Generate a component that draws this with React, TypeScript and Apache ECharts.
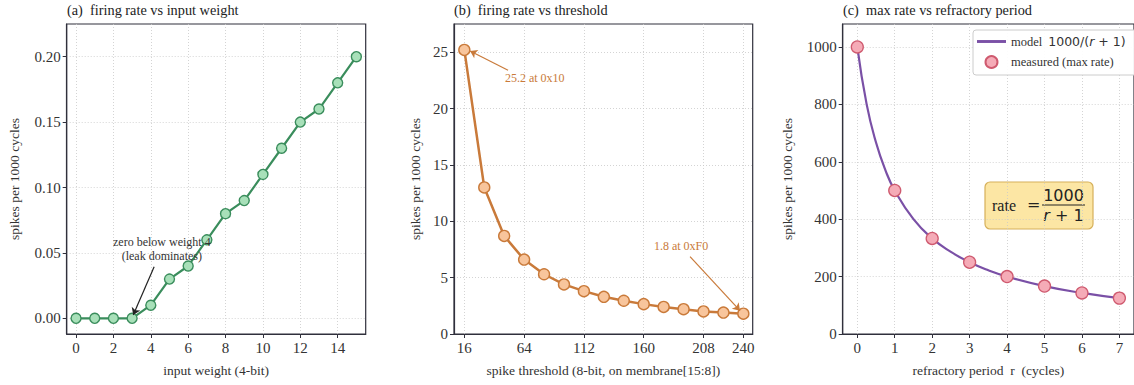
import React, { useEffect, useRef } from "react";
import * as echarts from "echarts";

// ---- data ----
const weightX = [0, 1, 2, 3, 4, 5, 6, 7, 8, 9, 10, 11, 12, 13, 14, 15];
const weightRate = [0, 0, 0, 0, 0.01, 0.03, 0.04, 0.06, 0.08, 0.09, 0.11, 0.13, 0.15, 0.16, 0.18, 0.2];

const thresholdX = [16, 32, 48, 64, 80, 96, 112, 128, 144, 160, 176, 192, 208, 224, 240];
const thresholdRate = [25.2, 13.0, 8.7, 6.6, 5.3, 4.4, 3.8, 3.3, 2.95, 2.65, 2.4, 2.2, 2.0, 1.9, 1.8];

const refractoryR = [0, 1, 2, 3, 4, 5, 6, 7];
const measuredRate = [1000, 500, 333, 250, 200, 167, 143, 125];
const modelR = [0, 0.25, 0.5, 0.75, 1, 1.5, 2, 2.5, 3, 3.5, 4, 5, 6, 7];
const modelRate = [1000, 800, 667, 571, 500, 400, 333, 286, 250, 222, 200, 167, 143, 125];

const ticksAX = [0, 2, 4, 6, 8, 10, 12, 14];
const ticksAY = [0, 0.05, 0.1, 0.15, 0.2];
const ticksBX = [16, 64, 112, 160, 208, 240];
const ticksBY = [0, 5, 10, 15, 20, 25];
const ticksCX = [0, 1, 2, 3, 4, 5, 6, 7];
const ticksCY = [0, 200, 400, 600, 800, 1000];

const titles = [
  "(a)  firing rate vs input weight",
  "(b)  firing rate vs threshold",
  "(c)  max rate vs refractory period",
];

const SERIF = "Liberation Serif, serif";
const MATH = "DejaVu Sans, sans-serif";
const FRAME = "#30303c";
const TXT = "#333333";
const GREEN = "#3a8d5c";
const ORANGE = "#c97a3a";
const PURPLE = "#7a50a6";

function axisBase(custom: number[], fmt: (v: number) => string) {
  return {
    axisLine: { show: true, onZero: false, lineStyle: { color: FRAME, width: 1.2 } },
    axisTick: { show: true, inside: false, length: 4, customValues: custom, lineStyle: { color: FRAME, width: 1 } },
    axisLabel: {
      show: true,
      customValues: custom,
      formatter: (v: number) => fmt(v),
      fontFamily: SERIF,
      fontSize: 15,
      color: TXT,
      margin: 6,
    },
    splitLine: { show: true, lineStyle: { color: "#c9c9c9", type: [1, 2], width: 0.8 } },
  };
}

const plain = (v: number) => String(v);
const nameStyle = { fontFamily: SERIF, fontSize: 13.5, color: TXT };

export default function App() {
  const ref = useRef<HTMLDivElement>(null);
  useEffect(() => {
    if (!ref.current) return;
    const chart = echarts.init(ref.current, undefined, { renderer: "svg" });
    const grids = [
      { left: 66.7, top: 24, width: 299, height: 310 },
      { left: 454, top: 24, width: 298.7, height: 310 },
      { left: 842.7, top: 24, width: 298, height: 310 },
    ].map((g) => ({ ...g, show: true, borderColor: FRAME, borderWidth: 1.2, backgroundColor: "transparent" }));

    const option: any = {
      animation: false,
      backgroundColor: "#ffffff",
      textStyle: { fontFamily: SERIF },
      grid: grids,
      xAxis: [
        {
          type: "value", gridIndex: 0, min: -0.5, max: 15.5,
          name: "input weight (4-bit)", nameLocation: "middle", nameGap: 29, nameTextStyle: nameStyle,
          ...axisBase(ticksAX, plain),
        },
        {
          type: "value", gridIndex: 1, min: 7.7, max: 247.5,
          name: "spike threshold (8-bit, on membrane[15:8])", nameLocation: "middle", nameGap: 29, nameTextStyle: nameStyle,
          ...axisBase(ticksBX, plain),
        },
        {
          type: "value", gridIndex: 2, min: -0.39, max: 7.39,
          name: "refractory period  r  (cycles)", nameLocation: "middle", nameGap: 29, nameTextStyle: nameStyle,
          ...axisBase(ticksCX, plain),
        },
      ],
      yAxis: [
        {
          type: "value", gridIndex: 0, min: -0.012, max: 0.225,
          name: "spikes per 1000 cycles", nameLocation: "middle", nameGap: 45, nameTextStyle: nameStyle,
          ...axisBase(ticksAY, (v) => v.toFixed(2)),
        },
        {
          type: "value", gridIndex: 1, min: 0, max: 27.5,
          name: "spikes per 1000 cycles", nameLocation: "middle", nameGap: 32, nameTextStyle: nameStyle,
          ...axisBase(ticksBY, plain),
        },
        {
          type: "value", gridIndex: 2, min: 0, max: 1080,
          name: "spikes per 1000 cycles", nameLocation: "middle", nameGap: 48, nameTextStyle: nameStyle,
          ...axisBase(ticksCY, plain),
        },
      ],
      legend: {
        left: 973,
        top: 30,
        orient: "vertical",
        itemWidth: 29,
        itemHeight: 12,
        itemGap: 7,
        padding: [5, 40, 6, 4],
        backgroundColor: "rgba(255,255,255,0.92)",
        borderColor: "#cccccc",
        borderWidth: 1,
        borderRadius: 3,
        data: [
          { name: "model", icon: "path://M0,0 L10,0 L10,1 L0,1 Z" },
          { name: "measured (max rate)", icon: "circle" },
        ],
        formatter: (name: string) =>
          name === "model" ? "{s|model}  {m|1000/(}{i|r}{m| + 1)}" : "{s|measured (max rate)}",
        textStyle: {
          rich: {
            s: { fontFamily: SERIF, fontSize: 12.5, color: TXT },
            m: { fontFamily: MATH, fontSize: 12.5, color: TXT },
            i: { fontFamily: MATH, fontSize: 12.5, fontStyle: "italic", color: TXT },
          },
        },
      },
      series: [
        {
          type: "line",
          name: "weight",
          xAxisIndex: 0,
          yAxisIndex: 0,
          data: weightX.map((x, i) => [x, weightRate[i]]),
          symbol: "circle",
          symbolSize: 10,
          lineStyle: { color: GREEN, width: 2.2 },
          itemStyle: { color: "#a8e0b9", borderColor: GREEN, borderWidth: 1.4 },
          z: 3,
          markLine: {
            silent: true,
            symbol: ["none", "arrow"],
            symbolSize: 7,
            label: { show: false },
            lineStyle: { color: "#222222", width: 1.2, type: "solid" },
            data: [[{ coord: [4.18, 0.0394] }, { coord: [3.06, 0.0025] }]],
          },
          markPoint: {
            silent: true,
            symbol: "circle",
            symbolSize: 1,
            itemStyle: { color: "transparent" },
            label: {
              show: true,
              position: "inside",
              formatter: "zero below weight 4\n(leak dominates)",
              fontFamily: SERIF,
              fontSize: 12,
              lineHeight: 13.5,
              color: "#333333",
            },
            data: [{ coord: [4.59, 0.0528] }],
          },
        },
        {
          type: "line",
          name: "threshold",
          xAxisIndex: 1,
          yAxisIndex: 1,
          data: thresholdX.map((x, i) => [x, thresholdRate[i]]),
          symbol: "circle",
          symbolSize: 11,
          lineStyle: { color: ORANGE, width: 2.5 },
          itemStyle: { color: "#f8c59c", borderColor: ORANGE, borderWidth: 1.4 },
          z: 3,
          markLine: {
            silent: true,
            symbol: ["none", "arrow"],
            symbolSize: 7,
            label: { show: false },
            lineStyle: { color: ORANGE, width: 1.2, type: "solid" },
            data: [
              [{ coord: [51.1, 23.4] }, { coord: [20.6, 25.1] }],
              [{ coord: [197.2, 6.86] }, { coord: [237.3, 2.07] }],
            ],
          },
          markPoint: {
            silent: true,
            symbol: "circle",
            symbolSize: 1,
            itemStyle: { color: "transparent" },
            label: {
              show: true,
              position: "inside",
              fontFamily: SERIF,
              fontSize: 12,
              color: ORANGE,
              formatter: (p: any) => p.name,
            },
            data: [
              { name: "25.2 at 0x10", coord: [72.5, 22.7] },
              { name: "1.8 at 0xF0", coord: [190, 7.8] },
            ],
          },
        },
        {
          type: "line",
          name: "model",
          xAxisIndex: 2,
          yAxisIndex: 2,
          data: modelR.map((x, i) => [x, modelRate[i]]),
          smooth: 0.5,
          symbol: "none",
          showSymbol: false,
          lineStyle: { color: PURPLE, width: 2.2 },
          itemStyle: { color: PURPLE },
          z: 2,
        },
        {
          type: "scatter",
          name: "measured (max rate)",
          xAxisIndex: 2,
          yAxisIndex: 2,
          data: refractoryR.map((x, i) => [x, measuredRate[i]]),
          symbol: "circle",
          symbolSize: 12,
          itemStyle: { color: "#f5abb7", borderColor: "#cf5a6f", borderWidth: 1.3, opacity: 1 },
          z: 4,
        },
      ],
      graphic: [
        ...titles.map((t, i) => ({
          type: "text",
          left: [67, 454, 843][i],
          top: 3,
          style: { text: t, fontFamily: SERIF, fontSize: 14.3, fill: "#222222" },
        })),
        {
          type: "group",
          z: 100,
          children: [
            {
              type: "rect",
              shape: { x: 985, y: 182, width: 108, height: 47, r: 5 },
              style: { fill: "#fce6a4", stroke: "#d6b05a", lineWidth: 1.2 },
            },
            {
              type: "text",
              x: 992,
              y: 205,
              style: { text: "rate", fontFamily: SERIF, fontSize: 16, fill: "#222", verticalAlign: "middle" },
            },
            {
              type: "text",
              x: 1027,
              y: 204,
              style: { text: "=", fontFamily: MATH, fontSize: 16, fill: "#222", verticalAlign: "middle" },
            },
            {
              type: "text",
              x: 1063.5,
              y: 195,
              style: { text: "1000", fontFamily: MATH, fontSize: 16, fill: "#222", align: "center", verticalAlign: "middle" },
            },
            {
              type: "line",
              shape: { x1: 1042, y1: 205, x2: 1085, y2: 205 },
              style: { stroke: "#222", lineWidth: 1.2 },
            },
            {
              type: "text",
              x: 1063.5,
              y: 215,
              style: {
                text: "{i|r} + 1",
                fontFamily: MATH,
                fontSize: 16,
                fill: "#222",
                align: "center",
                verticalAlign: "middle",
                rich: { i: { fontFamily: MATH, fontSize: 16, fontStyle: "italic", fill: "#222" } },
              },
            },
          ],
        },
      ],
    };
    chart.setOption(option);
    return () => chart.dispose();
  }, []);
  return (
    <div
      ref={ref}
      style={{ position: "fixed", left: 0, top: 0, width: 1134, height: 385, overflow: "hidden", background: "#fff" }}
    />
  );
}
